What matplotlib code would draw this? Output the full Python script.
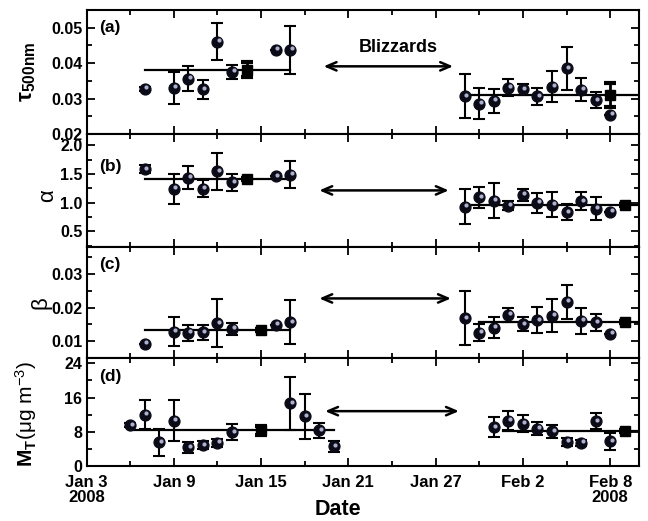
import numpy as np
import matplotlib
matplotlib.use("Agg")
import matplotlib.pyplot as plt
from matplotlib.ticker import MultipleLocator, FixedLocator
from matplotlib.transforms import offset_copy

plt.rcParams['font.family'] = ['Liberation Sans', 'DejaVu Sans']
plt.rcParams['mathtext.fontset'] = 'custom'
plt.rcParams['mathtext.rm'] = 'Liberation Sans'
plt.rcParams['mathtext.bf'] = 'Liberation Sans:bold'
plt.rcParams['mathtext.it'] = 'Liberation Sans:italic'

# days counted from Jan 3 2008
tick_days = [0, 6, 12, 18, 24, 30, 36]
tick_labels = ["Jan 3\n2008", "Jan 9", "Jan 15", "Jan 21", "Jan 27", "Feb 2", "Feb 8\n2008"]

days_pre = [4, 6, 7, 8, 9, 10, 13, 14]
days_post = [26, 27, 28, 29, 30, 31, 32, 33, 34, 35, 36]

# (a) AOD at 500 nm
tau_pre = [0.0328, 0.0331, 0.0356, 0.0326, 0.0461, 0.0375, 0.0438, 0.0438]
tau_pre_err = [0.0006, 0.0045, 0.0036, 0.0026, 0.0053, 0.0020, 0.0, 0.0068]
tau_post = [0.0307, 0.0286, 0.0294, 0.0331, 0.0326, 0.0306, 0.0334, 0.0385, 0.0325, 0.0295, 0.0255]
tau_post_err = [0.0063, 0.0043, 0.0034, 0.0023, 0.0016, 0.0024, 0.0043, 0.0060, 0.0033, 0.0023, 0.0]
tau_mean_day = [11, 36]
tau_mean = [0.0382, 0.0311]
tau_mean_err = [0.0020, 0.0034]

# (b) Angstrom exponent
alpha_pre = [1.587, 1.24, 1.435, 1.244, 1.545, 1.354, 1.465, 1.49]
alpha_pre_err = [0.07, 0.26, 0.20, 0.15, 0.32, 0.15, 0.0, 0.24]
alpha_post = [0.93, 1.092, 1.035, 0.948, 1.134, 0.995, 0.965, 0.83, 1.023, 0.89, 0.843]
alpha_post_err = [0.30, 0.18, 0.31, 0.08, 0.11, 0.18, 0.22, 0.14, 0.155, 0.20, 0.0]
alpha_mean_day = [11, 37]
alpha_mean = [1.418, 0.96]
alpha_mean_err = [0.02, 0.02]

# (c) turbidity coefficient
beta_pre = [0.0093, 0.0129, 0.0125, 0.0127, 0.0154, 0.0137, 0.0149, 0.0156]
beta_pre_err = [0.0, 0.0043, 0.0023, 0.0022, 0.0070, 0.0018, 0.0, 0.0065]
beta_post = [0.0168, 0.0126, 0.0141, 0.0178, 0.0151, 0.0163, 0.0176, 0.0217, 0.0161, 0.0157, 0.0122]
beta_post_err = [0.0080, 0.0025, 0.0030, 0.0020, 0.0020, 0.0038, 0.0049, 0.0050, 0.0039, 0.0025, 0.0]
beta_mean_day = [12, 37]
beta_mean = [0.0133, 0.0158]
beta_mean_err = [0.0003, 0.0003]

# (d) aerosol mass
mt_days_pre = [3, 4, 5, 6, 7, 8, 9, 10, 14, 15, 16, 17]
mt_pre = [9.47, 12.0, 5.5, 10.6, 4.3, 4.8, 5.35, 7.9, 14.65, 11.55, 8.3, 4.6]
mt_pre_err = [0.5, 3.3, 3.2, 4.9, 1.3, 0.9, 0.9, 1.8, 6.2, 5.2, 1.8, 1.3]
mt_days_post = [28, 29, 30, 31, 32, 33, 34, 35, 36]
mt_post = [9.07, 10.6, 9.86, 8.7, 8.1, 5.6, 5.4, 10.4, 5.74]
mt_post_err = [2.4, 2.2, 2.0, 1.5, 1.5, 1.0, 0.75, 1.9, 2.0]
mt_mean_day = [12, 37]
mt_mean = [8.3, 8.1]
mt_mean_err = [1.1, 0.3]

fig = plt.figure(figsize=(6.48, 5.21), dpi=100)
bounds = [(0.7428, 0.9808), (0.5265, 0.7428), (0.3123, 0.5265), (0.1061, 0.3123)]
axes = []
for lo, hi in bounds:
    ax = fig.add_axes([0.1335, lo, 0.8531, hi - lo])
    axes.append(ax)


def balls(ax, x, y, err):
    ax.errorbar(x, y, yerr=err, fmt='none', ecolor='black', elinewidth=1.5,
                capsize=4, capthick=1.5, zorder=3)
    ax.plot(x, y, 'o', color='#0b0b18', markersize=7.8, zorder=4)
    hl = offset_copy(ax.transData, fig=fig, x=1.1, y=1.1, units='points')
    ax.plot(x, y, 'o', color='#aeb0d0', markersize=3.0, markeredgewidth=0,
            transform=hl, zorder=5)


def means(ax, xs, ys, errs, spans):
    for (x0, x1), yv in zip(spans, ys):
        ax.plot([x0, x1], [yv, yv], color='black', lw=1.6, zorder=2)
    ax.errorbar(xs, ys, yerr=errs, fmt='s', color='black', markersize=7,
                elinewidth=2, capsize=4.5, capthick=3, zorder=4)


panels = [
    (days_pre, tau_pre, tau_pre_err, days_post, tau_post, tau_post_err,
     tau_mean_day, tau_mean, tau_mean_err, [(4, 14), (26, 38)]),
    (days_pre, alpha_pre, alpha_pre_err, days_post, alpha_post, alpha_post_err,
     alpha_mean_day, alpha_mean, alpha_mean_err, [(4, 14), (26, 38)]),
    (days_pre, beta_pre, beta_pre_err, days_post, beta_post, beta_post_err,
     beta_mean_day, beta_mean, beta_mean_err, [(4, 14), (27, 38)]),
    (mt_days_pre, mt_pre, mt_pre_err, mt_days_post, mt_post, mt_post_err,
     mt_mean_day, mt_mean, mt_mean_err, [(3, 17), (28.6, 38)]),
]

for ax, p in zip(axes, panels):
    xa, ya, ea, xb, yb, eb, mx, my, me, spans = p
    means(ax, mx, my, me, spans)
    balls(ax, xa, ya, ea)
    balls(ax, xb, yb, eb)

ylims = [(0.02, 0.055), (0.23, 2.2), (0.005, 0.038), (0, 25.2)]
majors = [0.01, 0.5, 0.01, 8]
minors = [0.005, 0.25, 0.005, 4]
fmts = ['{:.2f}', '{:.1f}', '{:.2f}', '{:.0f}']
for ax, yl, mj, mn, f in zip(axes, ylims, majors, minors, fmts):
    ax.set_xlim(0, 38)
    ax.set_ylim(*yl)
    ax.xaxis.set_major_locator(FixedLocator(tick_days))
    ax.xaxis.set_minor_locator(MultipleLocator(3))
    ax.yaxis.set_major_locator(MultipleLocator(mj))
    ax.yaxis.set_minor_locator(MultipleLocator(mn))
    ax.yaxis.set_major_formatter(matplotlib.ticker.FuncFormatter(lambda v, pos, f=f: f.format(v)))
    ax.tick_params(which='both', direction='in', top=True, right=True, width=1.3,
                   labelsize=11.5, pad=3)
    ax.tick_params(which='major', length=6)
    ax.tick_params(which='minor', length=3.5)
    for lab in ax.get_yticklabels():
        lab.set_fontweight('bold')
    for s in ax.spines.values():
        s.set_linewidth(1.5)
    if ax is not axes[-1]:
        ax.tick_params(labelbottom=False)

axes[2].set_yticks([0.01, 0.02, 0.03])
axes[2].set_yticklabels(['0.01', '0.02', '0.03'], fontweight='bold')
axes[1].set_yticks([0.5, 1.0, 1.5, 2.0])
axes[1].set_yticklabels(['0.5', '1.0', '1.5', '2.0'], fontweight='bold')

axes[-1].set_xticks(tick_days)
axes[-1].set_xticklabels(tick_labels, fontweight='bold', fontsize=12, linespacing=1.0)
axes[-1].tick_params(axis='x', pad=6.5)
axes[-1].set_xlabel('Date', fontsize=15.5, fontweight='bold')
axes[-1].xaxis.set_label_coords(0.455, -0.31)

# panel tags
tags = ['(a)', '(b)', '(c)', '(d)']
tag_y = [0.86, 0.71, 0.836, 0.83]
for ax, t, ty in zip(axes, tags, tag_y):
    ax.text(0.022, ty, t, transform=ax.transAxes, fontsize=12.5, fontweight='bold',
            va='center', ha='left')

# y labels
axes[0].text(-0.106, 0.5, r'$\mathbf{τ_{500nm}}$', transform=axes[0].transAxes,
             rotation=90, ha='center', va='center', fontsize=16)
axes[1].text(-0.07, 0.45, 'α', transform=axes[1].transAxes,
             rotation=90, ha='center', va='center', fontsize=16)
axes[2].text(-0.082, 0.5, 'β', transform=axes[2].transAxes,
             rotation=90, ha='center', va='center', fontsize=16)
axes[3].text(-0.11, 0.48, r'$\mathbf{M_T}$(μg m$^{-3}$)', transform=axes[3].transAxes,
             rotation=90, ha='center', va='center', fontsize=15)

# blizzard arrows
arrows = [(0, 16.3, 25.2, 0.0391), (1, 16.0, 24.9, 1.214),
          (2, 16.0, 25.05, 0.0227), (3, 16.4, 25.6, 12.8)]
for i, xs, xe, yv in arrows:
    axes[i].annotate('', xy=(xe, yv), xytext=(xs, yv),
                     arrowprops=dict(arrowstyle='<->,head_length=0.7,head_width=0.3',
                                     lw=1.8, color='black', shrinkA=0, shrinkB=0))
axes[0].text(21.4, 0.0443, 'Blizzards', fontsize=13, fontweight='bold',
             ha='center', va='center')

fig.savefig('out.png', dpi=100)
